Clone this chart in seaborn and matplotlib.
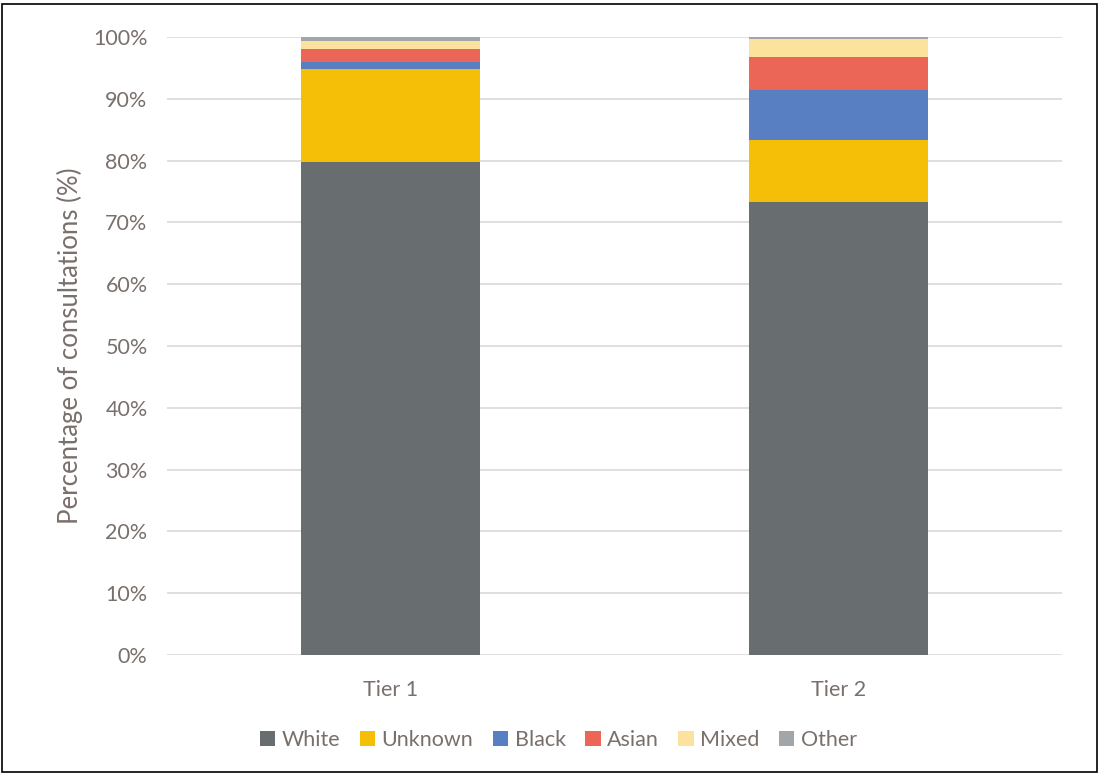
import matplotlib
matplotlib.use("Agg")
import matplotlib.pyplot as plt
import seaborn as sns
import pandas as pd
import numpy as np
from matplotlib.patches import Patch, Rectangle

tiers = ["Tier 1", "Tier 2"]
groups = ["White", "Unknown", "Black", "Asian", "Mixed", "Other"]
white = [79.7, 73.3]
unknown = [15.2, 10.1]
black = [1.0, 8.1]
asian = [2.2, 5.3]
mixed = [1.2, 2.8]
other = [0.7, 0.4]
colors = ["#686E70", "#F5BF07", "#577FC2", "#EC6657", "#FBE29D", "#A2A6A9"]
yticks = [0, 10, 20, 30, 40, 50, 60, 70, 80, 90, 100]
text_color = "#7A706B"

sns.set_theme(style="white")
plt.rcParams["font.family"] = ["Lato", "DejaVu Sans"]

series = [white, unknown, black, asian, mixed, other]
cum = np.cumsum(np.array(series), axis=0)

fig = plt.figure(figsize=(10.99, 7.74), dpi=100)
ax = fig.add_axes([0.152, 0.1537, 0.8143, 0.7985])

for i in range(len(groups) - 1, -1, -1):
    df = pd.DataFrame({"tier": tiers, "value": cum[i]})
    sns.barplot(data=df, x="tier", y="value", color=colors[i], width=0.4,
                saturation=1, ax=ax, zorder=3, linewidth=0, edgecolor="none")

ax.set_xlim(-0.5, 1.5)
ax.set_ylim(0, 100)
ax.set_yticks(yticks)
ax.set_yticklabels([f"{v}%" for v in yticks])
ax.yaxis.grid(True, color="#D9D9D9", linewidth=1.2, zorder=0)
ax.set_axisbelow(True)
for s in ax.spines.values():
    s.set_visible(False)
ax.tick_params(axis="both", length=0, labelsize=15.5, colors=text_color)
ax.tick_params(axis="y", pad=14)
ax.tick_params(axis="x", pad=18)
ax.set_xlabel("")
ax.set_ylabel("Percentage of consultations (%)", fontsize=18.5, color=text_color, labelpad=7)

handles = [Patch(facecolor=c, edgecolor="none", label=g) for g, c in zip(groups, colors)]
leg = fig.legend(handles=handles, loc="center", bbox_to_anchor=(0.508, 0.044), ncol=6,
                 frameon=False, fontsize=15.5, handlelength=0.72, handleheight=0.72,
                 handletextpad=0.3, columnspacing=0.9)
for t in leg.get_texts():
    t.set_color(text_color)

fig.add_artist(Rectangle((0.002, 0.002), 0.996, 0.993, transform=fig.transFigure,
                         fill=False, edgecolor="black", linewidth=1.2))

fig.savefig("out.png", dpi=100)
